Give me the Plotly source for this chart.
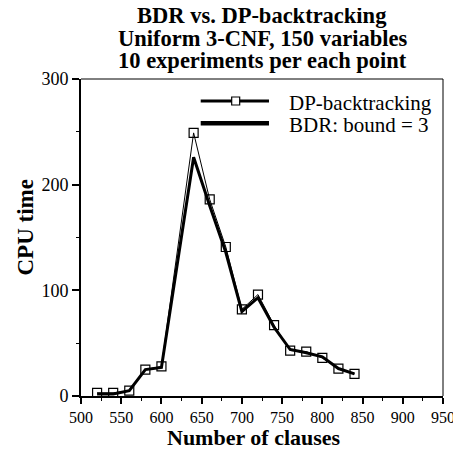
import plotly.graph_objects as go

clauses = [520, 540, 560, 580, 600, 640, 660, 680, 700, 720, 740, 760, 780, 800, 820, 840]
dp_backtracking = [3, 3, 5, 25, 28, 249, 186, 141, 82, 96, 67, 43, 42, 36, 26, 21]
bdr_bound3 = [2, 2, 5, 25, 27, 226, 180, 136, 80, 93, 65, 44, 41, 37, 26, 21]
title_lines = ["BDR vs. DP-backtracking", "Uniform 3-CNF, 150 variables", "10 experiments per each point"]
x_ticks = [500, 550, 600, 650, 700, 750, 800, 850, 900, 950]
y_ticks = [0, 100, 200, 300]
series_names = ["DP-backtracking", "BDR: bound = 3"]

FONT = "Liberation Serif"

fig = go.Figure()
fig.add_trace(go.Scatter(
    x=clauses, y=dp_backtracking, name=series_names[0],
    mode="lines+markers",
    line=dict(color="black", width=1),
    marker=dict(symbol="square-open", size=9, color="black", line=dict(width=1.2)),
    showlegend=False,
))
fig.add_trace(go.Scatter(
    x=clauses, y=bdr_bound3, name=series_names[1],
    mode="lines",
    line=dict(color="black", width=3),
    showlegend=False,
))

annotations = []
for yv, txt in zip([1.1995, 1.1293, 1.0575], title_lines):
    annotations.append(dict(
        text="<b>" + txt + "</b>", xref="paper", yref="paper",
        x=0.5, y=yv, xanchor="center", yanchor="middle", showarrow=False,
        font=dict(family=FONT, size=22.5, color="black"),
    ))
annotations.append(dict(
    text="<b>Number of clauses</b>", xref="paper", yref="paper",
    x=0.479, y=-0.131, xanchor="center", yanchor="middle", showarrow=False,
    font=dict(family=FONT, size=22, color="black"),
))
annotations.append(dict(
    text="<b>CPU time</b>", xref="paper", yref="paper", textangle=-90,
    x=-0.152, y=0.5315, xanchor="center", yanchor="middle", showarrow=False,
    font=dict(family=FONT, size=23, color="black"),
))
# legend (custom, to match the long swatches of the original)
for yv, name in zip([0.9306, 0.8603], series_names):
    annotations.append(dict(
        text=name, xref="paper", yref="paper",
        x=0.569, y=yv - 0.006, xanchor="left", yanchor="middle", showarrow=False,
        font=dict(family=FONT, size=21, color="black"),
    ))

shapes = [
    dict(type="line", xref="paper", yref="paper", x0=0, x1=1, y0=1, y1=1,
         line=dict(color="black", width=1)),
    dict(type="line", xref="paper", yref="paper", x0=1, x1=1, y0=0, y1=1,
         line=dict(color="black", width=1)),
    dict(type="line", xref="paper", yref="paper", x0=0.3307, x1=0.5193, y0=0.9306, y1=0.9306,
         line=dict(color="black", width=3)),
    dict(type="line", xref="paper", yref="paper", x0=0.3307, x1=0.5193, y0=0.8603, y1=0.8603,
         line=dict(color="black", width=4.5)),
    dict(type="rect", xref="paper", yref="paper", xsizemode="pixel", ysizemode="pixel",
         xanchor=0.4273, yanchor=0.9306, x0=-4, x1=4, y0=-4, y1=4,
         line=dict(color="black", width=1.2), fillcolor="white"),
]

# the page body has an 8px margin, so the figure is sized/offset to compensate
fig.update_layout(
    width=453, height=444,
    margin=dict(l=73, r=18, t=71, b=56),
    paper_bgcolor="white", plot_bgcolor="white",
    font=dict(family=FONT, color="black", size=16),
    showlegend=False,
    xaxis=dict(
        range=[500, 950], tickvals=x_ticks, automargin=False,
        ticks="outside", ticklen=6, tickwidth=1.5, tickcolor="black",
        minor=dict(dtick=25, tick0=500, ticks="outside", ticklen=3, tickwidth=1, tickcolor="black"),
        showgrid=False, zeroline=False,
        showline=True, linecolor="black", linewidth=2, mirror=False,
        tickfont=dict(family=FONT, size=16),
    ),
    yaxis=dict(
        range=[0, 300], tickvals=y_ticks, automargin=False,
        ticks="outside", ticklen=7, tickwidth=1.5, tickcolor="black",
        minor=dict(dtick=50, tick0=0, ticks="outside", ticklen=3, tickwidth=1, tickcolor="black"),
        showgrid=False, zeroline=False,
        showline=True, linecolor="black", linewidth=2, mirror=False,
        tickfont=dict(family=FONT, size=18),
    ),
    annotations=annotations,
    shapes=shapes,
)

fig.write_html("out.html")
